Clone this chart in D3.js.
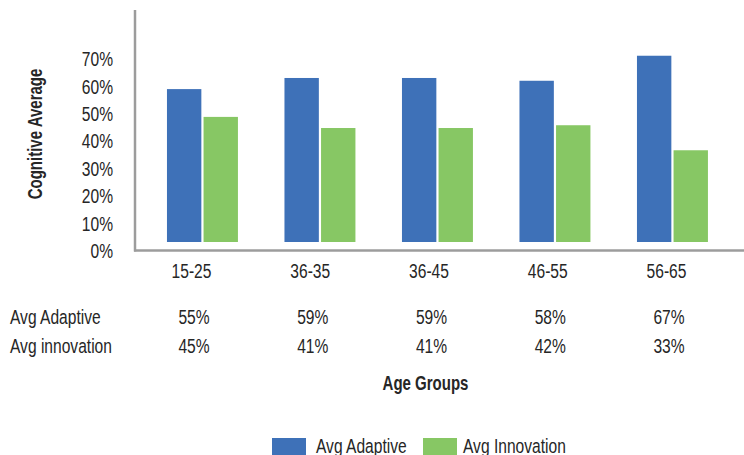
<!DOCTYPE html>
<html>
<head>
<meta charset="utf-8">
<script src="https://cdn.jsdelivr.net/npm/d3@7"></script>
<style>
  html, body { margin: 0; padding: 0; background: #fff; }
  svg { display: block; }
  text { font-family: "Liberation Sans", Arial, sans-serif; fill: #262626; }
</style>
</head>
<body>
<svg id="chart" width="744" height="455"></svg>
<script>
// Age groups and the two cognitive averages (percent)
const categories = ["15-25", "36-35", "36-45", "46-55", "56-65"];
const seriesNames = ["Avg Adaptive", "Avg Innovation"];
const avgAdaptive = [55, 59, 59, 58, 67];
const avgInnovation = [45, 41, 41, 42, 33];
const tableRowLabels = ["Avg Adaptive", "Avg innovation"];
const yTicks = [0, 10, 20, 30, 40, 50, 60, 70];
const colors = ["#3E71B8", "#87C764"];

const svg = d3.select("#chart");
const fontSize = 20.5;

// Scales
const x0 = d3.scaleBand().domain(categories)
  .range([143.7, 731.2]).paddingInner(0.396).paddingOuter(0.198);
const x1 = d3.scaleBand().domain(seriesNames)
  .range([0, x0.bandwidth()]).paddingInner(0.06);
const yBar = d3.scaleLinear().domain([0, 70]).range([242, 47.4]);
const yLabel = d3.scaleLinear().domain([0, 70]).range([250, 58.5]);
const xLabel = d3.scalePoint().domain(categories).range([191, 666]);
const color = d3.scaleOrdinal().domain(seriesNames).range(colors);

// Bars
const rows = categories.map((c, i) => ({ cat: c, vals: [avgAdaptive[i], avgInnovation[i]] }));
const groups = svg.append("g").selectAll("g").data(rows).join("g")
  .attr("transform", d => `translate(${x0(d.cat)},0)`);
groups.selectAll("rect")
  .data(d => d.vals.map((v, j) => ({ key: seriesNames[j], v })))
  .join("rect")
  .attr("x", d => x1(d.key))
  .attr("width", x1.bandwidth())
  .attr("y", d => yBar(d.v))
  .attr("height", d => yBar(0) - yBar(d.v))
  .attr("fill", d => color(d.key));

// Axis lines
svg.append("line").attr("x1", 135).attr("x2", 135).attr("y1", 10).attr("y2", 251.5)
  .attr("stroke", "#9c9c9c").attr("stroke-width", 2.5);
svg.append("line").attr("x1", 134).attr("x2", 744).attr("y1", 250.5).attr("y2", 250.5)
  .attr("stroke", "#9c9c9c").attr("stroke-width", 2.5);

// Y tick labels
const yAxis = d3.axisLeft(yLabel).tickValues(yTicks).tickFormat(d => d + "%").tickSize(0).tickPadding(0);
const yg = svg.append("g").attr("transform", "translate(113,0)").call(yAxis);
yg.select(".domain").remove();
yg.selectAll("text").attr("font-size", fontSize).attr("dy", "0.36em").attr("font-family", null);

// Y title
svg.append("text")
  .attr("transform", "translate(42,134) rotate(-90)")
  .attr("text-anchor", "middle").attr("font-size", fontSize).attr("font-weight", "bold")
  .text("Cognitive Average");

// Category labels
const xAxis = d3.axisBottom(xLabel).tickSize(0).tickPadding(0);
const xg = svg.append("g").attr("transform", "translate(0,263)").call(xAxis);
xg.select(".domain").remove();
xg.selectAll("text").attr("font-size", fontSize).attr("dy", "0.72em").attr("font-family", null);

// Data table under the axis
const tableVals = [avgAdaptive, avgInnovation];
const rowY = [324, 353];
tableRowLabels.forEach((lbl, r) => {
  svg.append("text").attr("x", 10).attr("y", rowY[r]).attr("font-size", fontSize).text(lbl);
  svg.selectAll(null).data(tableVals[r]).join("text")
    .attr("x", (d, i) => xLabel(categories[i]) + 3)
    .attr("y", rowY[r])
    .attr("text-anchor", "middle").attr("font-size", fontSize)
    .text(d => d + "%");
});

// X title
svg.append("text").attr("x", 425.5).attr("y", 390)
  .attr("text-anchor", "middle").attr("font-size", fontSize).attr("font-weight", "bold")
  .text("Age Groups");

// Legend
const legendX = [272, 423];
const legend = svg.append("g").selectAll("g").data(seriesNames).join("g")
  .attr("transform", (d, i) => `translate(${legendX[i]},438)`);
legend.append("rect").attr("width", 34).attr("height", 20).attr("fill", d => color(d));
legend.append("text").attr("x", (d, i) => i === 0 ? 44 : 40).attr("y", 14.5)
  .attr("font-size", fontSize).text(d => d);

// Condensed lettering: squeeze every label horizontally
svg.selectAll("text").each(function () {
  const bold = this.getAttribute("font-weight") === "bold";
  const k = (bold ? 0.79 : 0.82) * 19 / fontSize;
  const w = this.getComputedTextLength();
  d3.select(this).attr("textLength", w * k).attr("lengthAdjust", "spacingAndGlyphs");
});
</script>
</body>
</html>
